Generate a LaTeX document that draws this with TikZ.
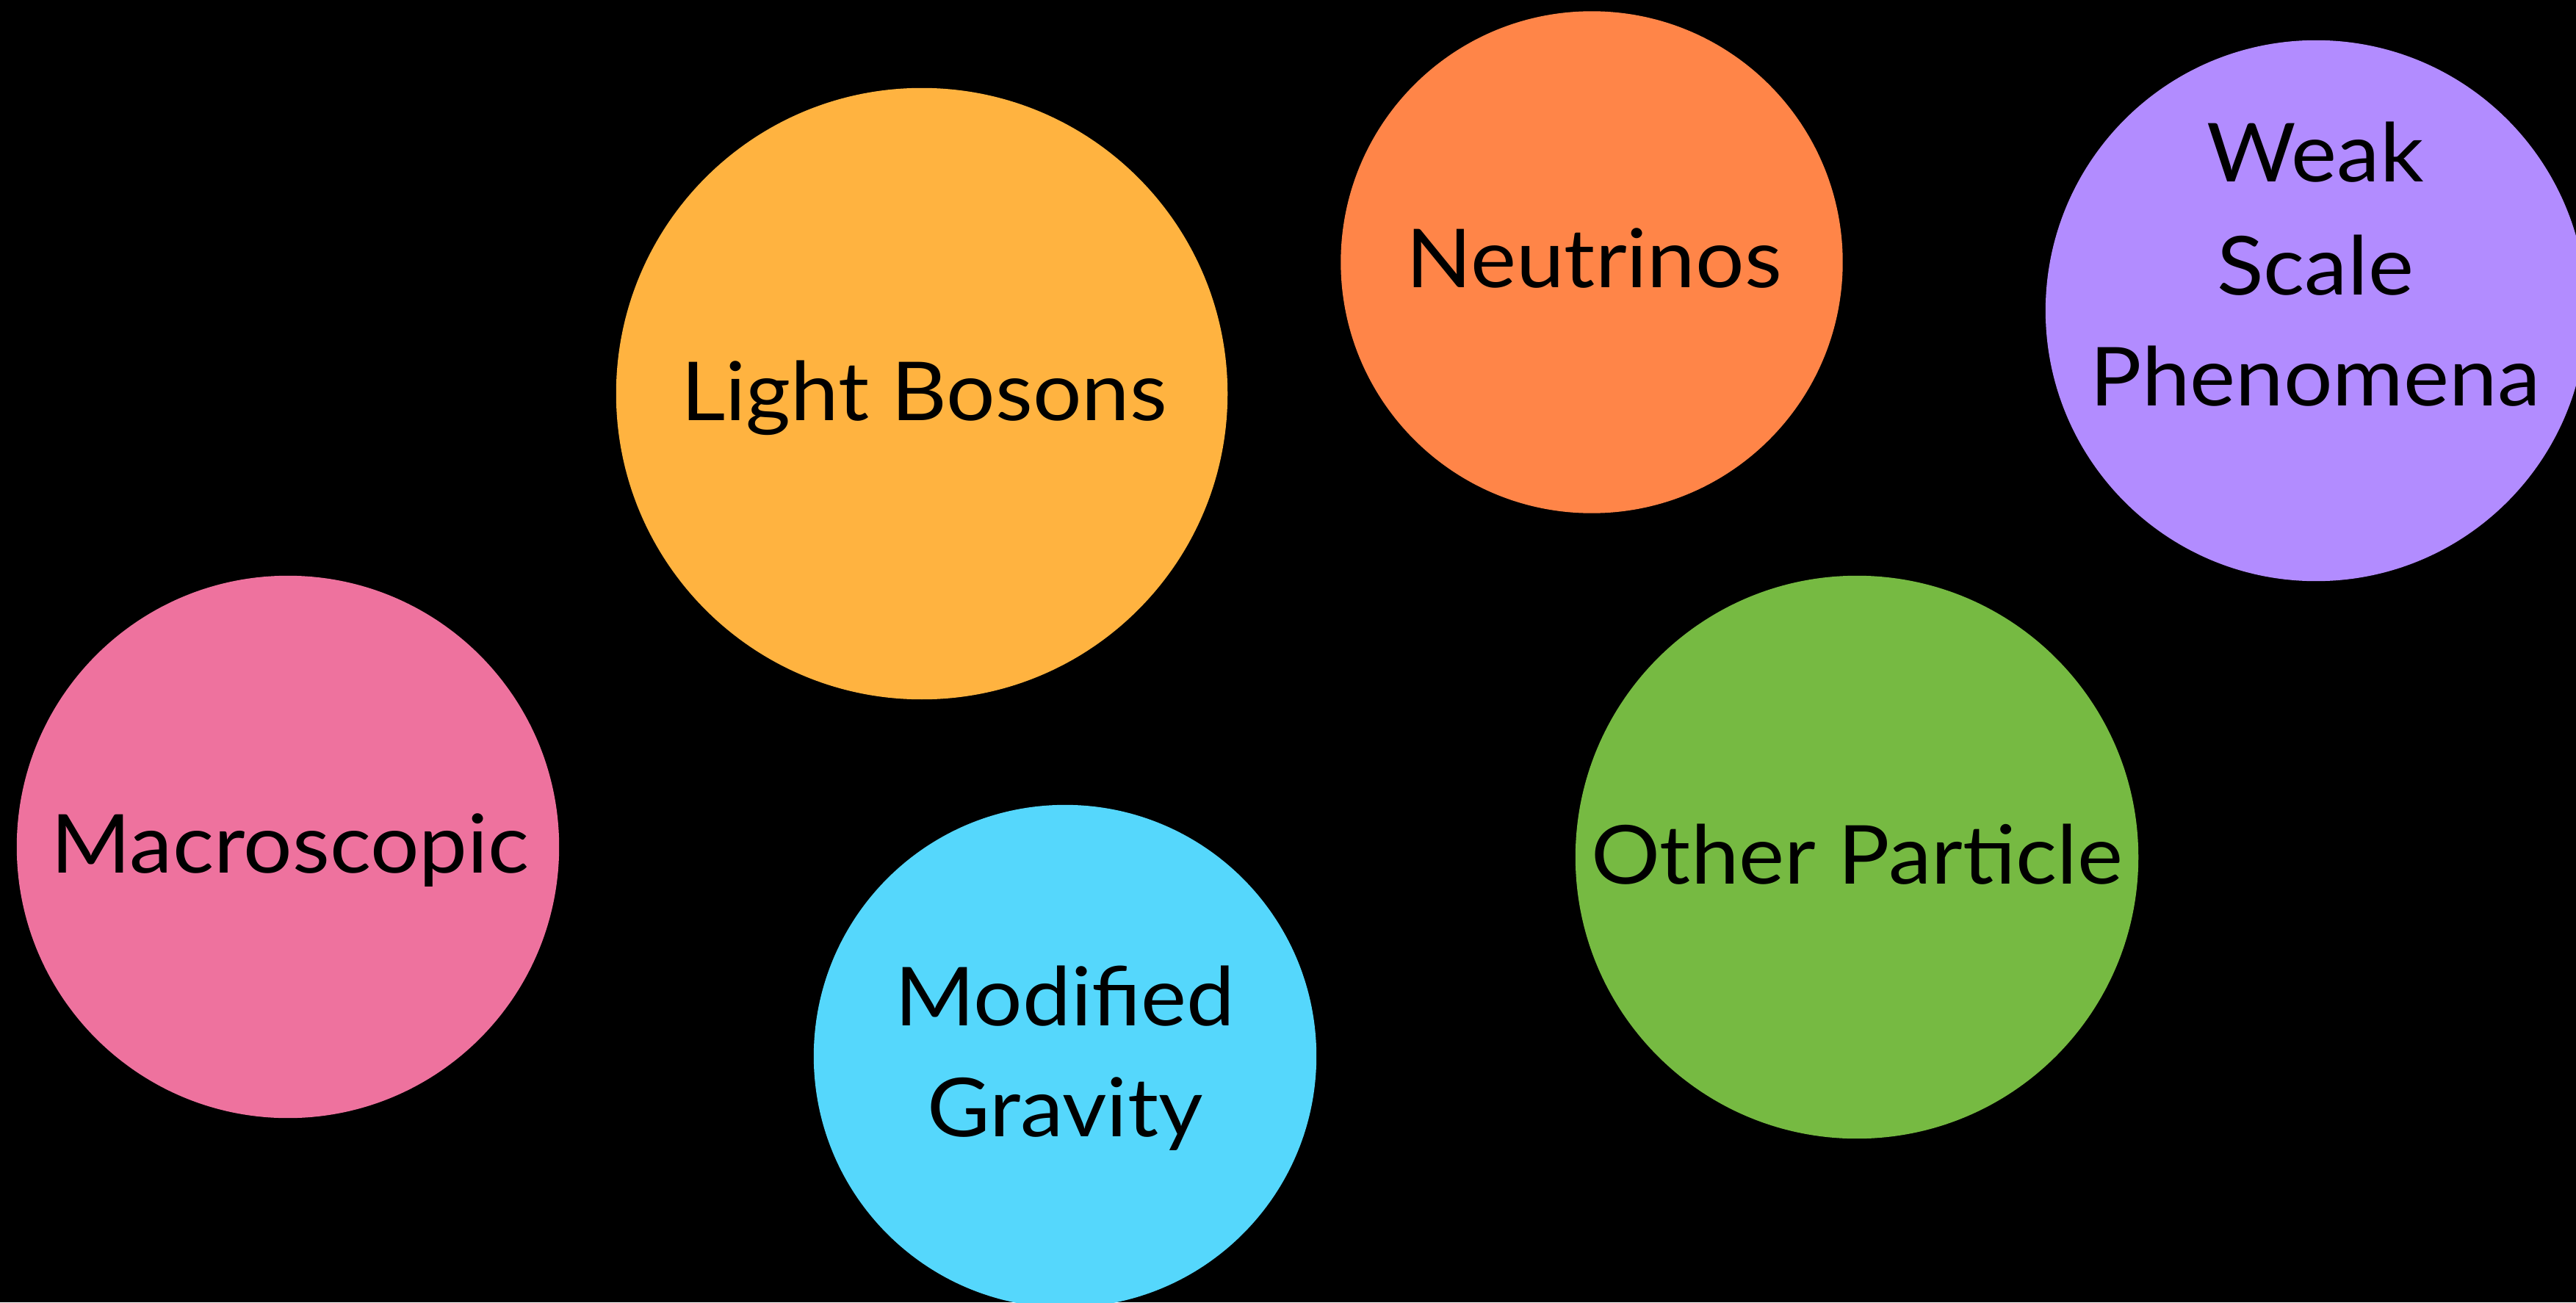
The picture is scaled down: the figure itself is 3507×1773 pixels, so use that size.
\documentclass[tikz,border=0pt]{standalone}
\usepackage{fontspec}
\setmainfont{Lato}[FakeStretch=1.06]
\definecolor{cBoson}{RGB}{255,179,64}
\definecolor{cNeu}{RGB}{255,133,72}
\definecolor{cWeak}{RGB}{178,140,255}
\definecolor{cMacro}{RGB}{238,114,158}
\definecolor{cGrav}{RGB}{85,215,252}
\definecolor{cOther}{RGB}{118,186,66}
\tikzset{
  blob/.style={circle,inner sep=0pt,draw=none,minimum size=#1},
  lbl/.style={anchor=base,inner sep=0pt,text=black,font=\fontsize{31.5pt}{43pt}\selectfont}
}
\begin{document}
\begin{tikzpicture}[x=0.01cm,y=-0.01cm]
\fill[black] (0,0) rectangle (3507,1773);
\useasboundingbox (0,0) rectangle (3507,1773);
\clip (0,0) rectangle (3507,1773);
\node[blob=8.32cm,fill=cBoson] (boson) at (1255,536) {};
\node[blob=6.83cm,fill=cNeu] (neu) at (2167,357) {};
\node[blob=7.36cm,fill=cWeak] (weak) at (3153,423) {};
\node[blob=7.38cm,fill=cMacro] (macro) at (392,1153) {};
\node[blob=6.84cm,fill=cGrav] (grav) at (1450,1438) {};
\node[blob=7.66cm,fill=cOther] (other) at (2528,1167) {};
\node[lbl] (tboson) at (1258,572) {Light Bosons};
\node[lbl] (tneu) at (2170,392) {Neutrinos};
\node[lbl] (tweak1) at (3152,248) {Weak};
\node[lbl] (tweak2) at (3152,401) {Scale};
\node[lbl] (tweak3) at (3152,552) {Phenomena};
\node[lbl] (tmacro) at (395,1188) {Macroscopic};
\node[lbl] (tgrav1) at (1450,1396) {Modified};
\node[lbl] (tgrav2) at (1450,1547) {Gravity};
\node[lbl] (tother) at (2528,1203) {Other Particle};
\end{tikzpicture}
\end{document}
